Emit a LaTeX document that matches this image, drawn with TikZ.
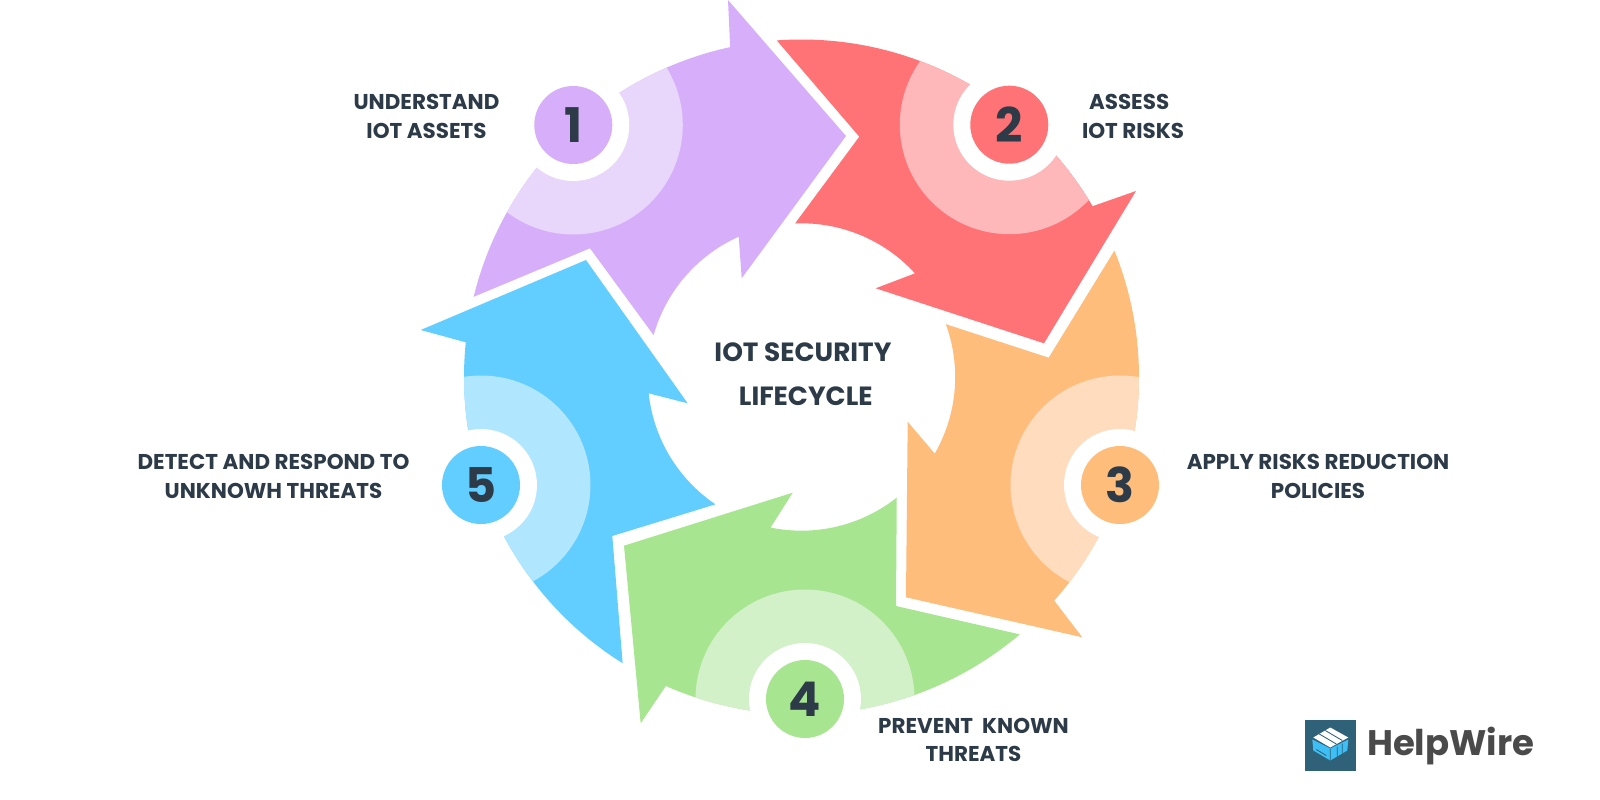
\documentclass[tikz,border=0pt]{standalone}
\usepackage{fontspec}
\setmainfont{Poppins}
\usetikzlibrary{positioning}
\definecolor{inkdark}{HTML}{2D3B48}
\definecolor{purplemain}{HTML}{D6AEF9}
\definecolor{purplelight}{HTML}{E9D6FB}
\definecolor{redmain}{HTML}{FF7276}
\definecolor{redlight}{HTML}{FFB8BA}
\definecolor{orangemain}{HTML}{FFBD7C}
\definecolor{orangelight}{HTML}{FFDCBE}
\definecolor{greenmain}{HTML}{A7E591}
\definecolor{greenlight}{HTML}{D3F1C8}
\definecolor{bluemain}{HTML}{62CDFF}
\definecolor{bluelight}{HTML}{B1E6FF}
\definecolor{logoteal}{HTML}{2F6178}
\definecolor{logoblue}{HTML}{3DBEF5}
\definecolor{logotext}{HTML}{4A4A4A}
% outer and inner rim of the ring
\newcommand{\rimR}{337.5}
\newcommand{\rimr}{153.7}
\newcommand{\arrowpath}[6]{(#1:\rimR) arc[start angle=#1, end angle=#2, radius=\rimR] #3 -- (#4:\rimr) arc[start angle=#4, end angle=#5, radius=\rimr] -- #6 -- cycle}
\begin{document}
\begin{tikzpicture}[
  x=0.05cm, y=0.05cm,
  badge/.style={circle, minimum size=3.9cm, inner sep=0pt, text=inkdark, font=\fontsize{68}{68}\selectfont\bfseries},
  steplabel/.style={align=center, text=inkdark, font=\fontsize{30.5}{41}\selectfont\bfseries},
  titlelabel/.style={align=center, text=inkdark, font=\fontsize{37.5}{62}\selectfont\bfseries}
]
\useasboundingbox (-801.5,-423) rectangle (798.5,377);
% arrow 1
\begin{scope}
  \clip \arrowpath{166.25}{102.2}{-- (-73.5,377) -- (44.5,241) -- (-59.8,98.7)}{114.1}{164.2}{(-211.5,128.7)};
  \fill[purplemain] (-400,-400) rectangle (400,400);
  \fill[purplelight] (-228.2,252) circle (109.5);
\end{scope}
\fill[white] (-228.2,252) circle (56);
\node[badge, fill=purplemain] (n1) at (-228.2,252) {1};
% arrow 2
\begin{scope}
  \clip \arrowpath{94.2}{30.4}{-- (334.5,186) -- (242.5,33.7) -- (74.2,88.7)}{42.4}{92.4}{(57.8,240.3)};
  \fill[redmain] (-400,-400) rectangle (400,400);
  \fill[redlight] (207.8,252.3) circle (109.5);
\end{scope}
\fill[white] (207.8,252.3) circle (56);
\node[badge, fill=redmain] (n2) at (207.8,252.3) {2};
% arrow 3
\begin{scope}
  \clip \arrowpath{22}{-41.5}{-- (280.8,-260.3) -- (104.5,-220.3) -- (106.2,-44.7)}{-29.9}{20.1}{(247.2,19.3)};
  \fill[orangemain] (-400,-400) rectangle (400,400);
  \fill[orangelight] (318.5,-108) circle (109.5);
\end{scope}
\fill[white] (318.5,-108) circle (56);
\node[badge, fill=orangemain] (n3) at (318.5,-108) {3};
% arrow 4
\begin{scope}
  \clip \arrowpath{-49.7}{-113.7}{-- (-160.8,-346.3) -- (-177.5,-168.7) -- (-8.8,-115.7)}{-101.6}{-51.7}{(94.5,-229)};
  \fill[greenmain] (-400,-400) rectangle (400,400);
  \fill[greenlight] (3.5,-322) circle (109.5);
\end{scope}
\fill[white] (3.5,-322) circle (56);
\node[badge, fill=greenmain] (n4) at (3.5,-322) {4};
% arrow 5
\begin{scope}
  \clip \arrowpath{-122}{-185.9}{-- (-380.8,47) -- (-215.5,117) -- (-113.8,-26.3)}{-173.9}{-124.05}{(-189.2,-159)};
  \fill[bluemain] (-400,-400) rectangle (400,400);
  \fill[bluelight] (-320.5,-108) circle (109.5);
\end{scope}
\fill[white] (-320.5,-108) circle (56);
\node[badge, fill=bluemain] (n5) at (-320.5,-108) {5};
% labels
\node[titlelabel] (title) at (1.5,3) {IOT SECURITY\\\hspace*{8pt}LIFECYCLE};
\node[steplabel] (t1) at (-375,260.5) {UNDERSTAND\\IOT ASSETS};
\node[steplabel] (t2) at (331.5,260.5) {ASSESS\hspace*{11pt}\\IOT RISKS};
\node[steplabel] (t3) at (516.5,-99.5) {APPLY RISKS REDUCTION\\POLICIES};
\node[steplabel] (t4) at (172,-363) {PREVENT\ \ KNOWN\\THREATS};
\node[steplabel] (t5) at (-528,-99.5) {DETECT AND RESPOND TO\\UNKNOWH THREATS};
% logo
\node[fill=logoteal, minimum size=2.535cm, inner sep=0pt] (logo) at (528.8,-368.5) {};
\node[text=logotext, font=\fontsize{50.5}{50.5}\selectfont\bfseries, anchor=west, inner sep=0pt] (brand) at (565.5,-369) {HelpWire};
\begin{scope}[shift={(logo.center)}]
  \fill[logoblue] (-18,6) -- (0,-3) -- (18,6) -- (17,-5) -- (0,-15) -- (-17,-5) -- cycle;
  \fill[white] (-17,8) -- (0,18) -- (18,8) -- (0,-2) -- cycle;
  \draw[logoteal, line width=1.2pt] (-11,11.5) -- (6,1.5) (-5,15) -- (12,5);
  \draw[logoteal, line width=1.2pt] (0,-3) -- (0,-15) (-14,-4) -- (-4,-10) (7,-1) -- (7,-11) (12,2) -- (12,-8);
\end{scope}
\end{tikzpicture}
\end{document}
